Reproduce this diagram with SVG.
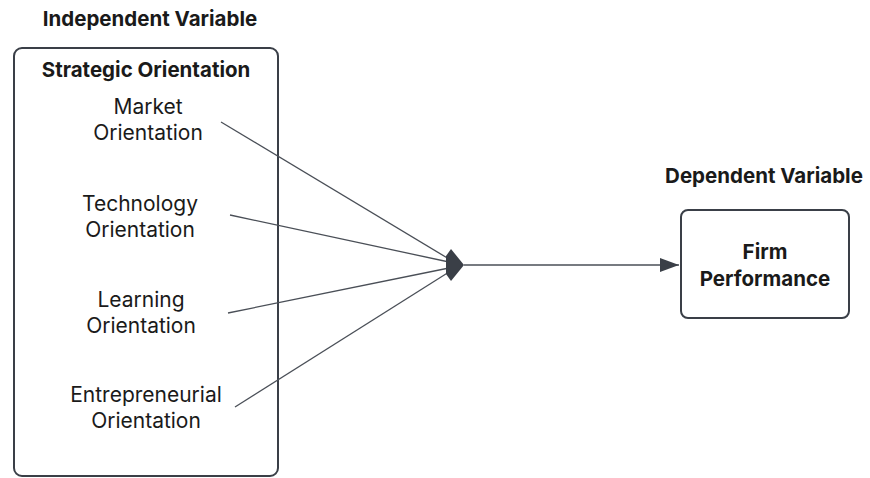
<svg xmlns="http://www.w3.org/2000/svg" width="870" height="478" viewBox="0 0 870 478">
<style>
text{font-family:Inter,"Noto Sans",sans-serif;font-size:21px;fill:#1a1a1a;text-anchor:middle}
.b{font-weight:700;font-size:20.5px}
.box{fill:#fff;stroke:#3a3f47;stroke-width:2}
.ln{stroke:#4a4f57;stroke-width:1.3;fill:none}
</style>
<defs>
<marker id="ah" markerWidth="20" markerHeight="14" refX="19" refY="7" orient="auto" markerUnits="userSpaceOnUse">
<path d="M0,0 L19,7 L0,14 z" fill="#3a3f47"/>
</marker>
</defs>
<rect width="870" height="478" fill="#fff"/>
<text class="b" x="150" y="26">Independent Variable</text>
<text class="b" x="764" y="183">Dependent Variable</text>
<g id="strategic-orientation">
<rect class="box" x="14" y="48" width="264" height="428" rx="8"/>
<text class="b" x="146" y="77">Strategic Orientation</text>
</g>
<g id="market"><text x="148" y="114">Market</text><text x="148" y="140">Orientation</text></g>
<g id="technology"><text x="140" y="211">Technology</text><text x="140" y="237">Orientation</text></g>
<g id="learning"><text x="141" y="307">Learning</text><text x="141" y="333">Orientation</text></g>
<g id="entrepreneurial"><text x="146" y="402">Entrepreneurial</text><text x="146" y="428">Orientation</text></g>
<g id="firm-performance">
<rect class="box" x="681" y="210" width="168" height="108" rx="7"/>
<text class="b" x="765" y="259">Firm</text>
<text class="b" x="765" y="286">Performance</text>
</g>
<g id="connectors">
<line class="ln" x1="221" y1="122" x2="449" y2="259"/>
<line class="ln" x1="230" y1="215" x2="449" y2="262"/>
<line class="ln" x1="228" y1="313" x2="449" y2="268"/>
<line class="ln" x1="235" y1="407" x2="449" y2="272"/>
<polygon points="446,256 451,249 464,265 451,281 446,274" fill="#3a3f47"/>
<line class="ln" x1="464" y1="265" x2="679" y2="265" marker-end="url(#ah)"/>
</g>
</svg>
